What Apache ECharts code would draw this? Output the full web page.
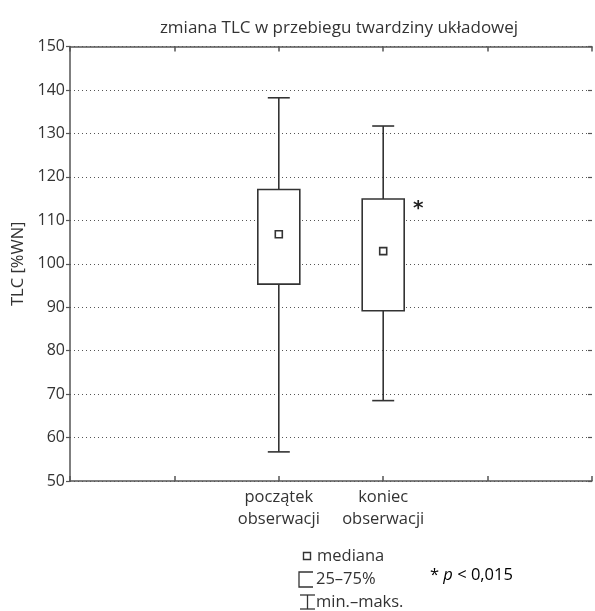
<!DOCTYPE html>
<html>
<head>
<meta charset="utf-8">
<script src="https://cdn.jsdelivr.net/npm/echarts@6/dist/echarts.min.js"></script>
<style>
  html, body { margin: 0; padding: 0; background: #fff; }
  #chart { width: 595px; height: 611px; }
</style>
</head>
<body>
<div id="chart"></div>
<script>
// kategorie osi X (pozycje na podziałkach), tylko dwie mają etykiety
const categories = ["", "", "początek\nobserwacji", "koniec\nobserwacji", "", ""];
const groupIndex = [2, 3];
// wartości pudełek: min, 25%, mediana, 75%, maks
const minValues = [56.7, 68.5];
const q1Values = [95.3, 89.2];
const medianValues = [106.8, 102.9];
const q3Values = [117.1, 114.9];
const maxValues = [138.2, 131.7];

const FONT = "'Open Sans', 'Noto Sans', sans-serif";
const INK = "#333";
const AXIS = "#555";

const boxData = groupIndex.map((g, i) => [
  g, minValues[i], q1Values[i], medianValues[i], q3Values[i], maxValues[i]
]);

const renderBox = (params, api) => {
  const x = api.value(0);
  const pMin = api.coord([x, api.value(1)]);
  const pQ1 = api.coord([x, api.value(2)]);
  const pMed = api.coord([x, api.value(3)]);
  const pQ3 = api.coord([x, api.value(4)]);
  const pMax = api.coord([x, api.value(5)]);
  const cx = pMed[0];
  const boxW = 42, capW = 22, med = 7;
  const st = { stroke: "#333", lineWidth: 1.6, fill: null };
  return {
    type: "group",
    children: [
      { type: "line", shape: { x1: cx, y1: pMax[1], x2: cx, y2: pQ3[1] }, style: st },
      { type: "line", shape: { x1: cx, y1: pQ1[1], x2: cx, y2: pMin[1] }, style: st },
      { type: "line", shape: { x1: cx - capW / 2, y1: pMax[1], x2: cx + capW / 2, y2: pMax[1] }, style: st },
      { type: "line", shape: { x1: cx - capW / 2, y1: pMin[1], x2: cx + capW / 2, y2: pMin[1] }, style: st },
      {
        type: "rect",
        shape: { x: cx - boxW / 2, y: pQ3[1], width: boxW, height: pQ1[1] - pQ3[1] },
        style: { stroke: "#333", lineWidth: 1.6, fill: "#fff" }
      },
      {
        type: "rect",
        shape: { x: cx - med / 2, y: pMed[1] - med / 2, width: med, height: med },
        style: { stroke: "#333", lineWidth: 1.6, fill: "#fff" }
      }
    ]
  };
};

const chart = echarts.init(document.getElementById("chart"));

const option = {
  animation: false,
  backgroundColor: "#fff",
  title: {
    text: "zmiana TLC w przebiegu twardziny układowej",
    left: 334,
    textAlign: "center",
    top: 15,
    textStyle: { fontFamily: FONT, fontSize: 17, fontWeight: "normal", color: INK }
  },
  grid: { left: 70, right: -2, top: 46.5, bottom: 130 },
  xAxis: [
    {
      type: "category",
      data: categories,
      boundaryGap: false,
      axisLine: { lineStyle: { color: AXIS, width: 1.5 } },
      axisTick: { inside: true, length: 5, lineStyle: { color: AXIS, width: 1.5 } },
      axisLabel: { interval: 0, color: INK, fontFamily: FONT, fontSize: 16.5, lineHeight: 22, margin: 5 },
      splitLine: { show: false }
    },
    {
      type: "category",
      position: "top",
      data: categories,
      boundaryGap: false,
      axisLine: { lineStyle: { color: AXIS, width: 1.5 } },
      axisTick: { inside: true, length: 5, lineStyle: { color: AXIS, width: 1.5 } },
      axisLabel: { show: false },
      splitLine: { show: false }
    }
  ],
  yAxis: [
    {
      type: "value",
      min: 50,
      max: 150,
      interval: 10,
      name: "TLC [%WN]",
      nameLocation: "middle",
      nameGap: 41,
      nameRotate: 90,
      nameTextStyle: { fontFamily: FONT, fontSize: 16.5, color: INK },
      axisLine: { show: true, lineStyle: { color: AXIS, width: 1.5 } },
      axisTick: { show: true, length: 4, lineStyle: { color: AXIS, width: 1.2 } },
      axisLabel: { color: INK, fontFamily: FONT, fontSize: 16, margin: 5 },
      splitLine: { show: true, lineStyle: { color: "#555", width: 1, type: [1, 3] } }
    },
    {
      type: "value",
      position: "right",
      min: 50,
      max: 150,
      interval: 10,
      axisLine: { show: false },
      axisTick: { show: true, inside: true, length: 4, lineStyle: { color: AXIS, width: 1.2 } },
      axisLabel: { show: false },
      splitLine: { show: false }
    }
  ],
  series: [
    {
      type: "custom",
      renderItem: renderBox,
      encode: { x: 0, y: [1, 2, 3, 4, 5] },
      data: boxData,
      z: 5
    }
  ],
  graphic: [
    // gwiazdka istotności przy drugim pudełku
    {
      type: "text", left: 413, top: 199, z: 10,
      style: { text: "*", font: "bold 20px 'DejaVu Sans'", fill: "#222" }
    },
    // legenda
    {
      type: "rect", shape: { x: 303.5, y: 552.5, width: 7, height: 7 },
      style: { stroke: "#333", lineWidth: 1.4, fill: "#fff" }
    },
    {
      type: "text", x: 317, y: 556,
      style: { text: "mediana", font: "16.5px " + FONT, fill: INK, verticalAlign: "middle" }
    },
    {
      type: "polyline", shape: { points: [[313, 572], [299, 572], [299, 587], [313, 587]] },
      style: { stroke: "#333", lineWidth: 1.3, fill: null }
    },
    {
      type: "text", x: 316, y: 579,
      style: { text: "25–75%", font: "16.5px " + FONT, fill: INK, verticalAlign: "middle" }
    },
    {
      type: "polyline", shape: { points: [[300, 595], [315, 595]] },
      style: { stroke: "#333", lineWidth: 1.3 }
    },
    {
      type: "polyline", shape: { points: [[307.5, 595], [307.5, 609]] },
      style: { stroke: "#333", lineWidth: 1.3 }
    },
    {
      type: "polyline", shape: { points: [[300, 609], [315, 609]] },
      style: { stroke: "#333", lineWidth: 1.3 }
    },
    {
      type: "text", x: 316, y: 602,
      style: { text: "min.–maks.", font: "16.5px " + FONT, fill: INK, verticalAlign: "middle" }
    },
    {
      type: "text", x: 430, y: 575,
      style: {
        text: "{n|* }{i|p}{n| < 0,015}",
        verticalAlign: "middle",
        rich: {
          n: { fontFamily: FONT, fontSize: 16.5, color: INK },
          i: { fontFamily: FONT, fontSize: 16.5, fontStyle: "italic", color: INK }
        }
      }
    }
  ]
};

chart.setOption(option);
</script>
</body>
</html>
